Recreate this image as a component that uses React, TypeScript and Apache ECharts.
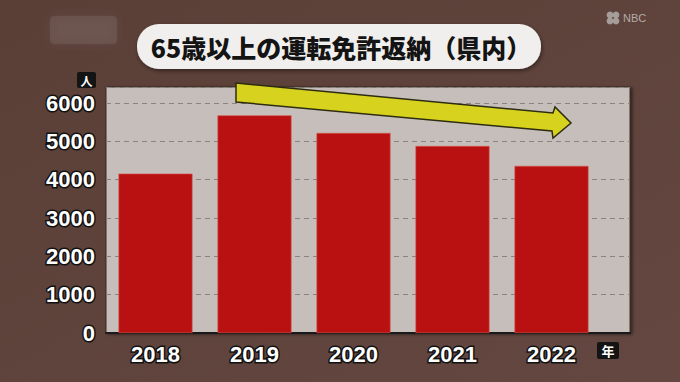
import React, { useEffect, useRef } from "react";
import * as echarts from "echarts";

const categories = ["2018", "2019", "2020", "2021", "2022"];
const values = [4160, 5680, 5220, 4880, 4360];
const yTicks = [0, 1000, 2000, 3000, 4000, 5000, 6000];
const titleText = "65歳以上の運転免許返納（県内）";
const yUnit = "人";
const xUnit = "年";

export default function App() {
  const ref = useRef<HTMLDivElement>(null);
  useEffect(() => {
    if (!ref.current) return;
    const chart = echarts.init(ref.current, null, { renderer: "svg" });
    const yMax = 6420;
    const labelStyle = {
      color: "#ffffff",
      fontSize: 22,
      fontWeight: "bold" as const,
      fontFamily: "Liberation Sans, Arial, sans-serif",
      textBorderColor: "#111111",
      textBorderWidth: 3,
    };
    chart.setOption({
      animation: false,
      backgroundColor: {
        type: "linear",
        x: 0,
        y: 0,
        x2: 1,
        y2: 1,
        colorStops: [
          { offset: 0, color: "#5a3f37" },
          { offset: 1, color: "#634740" },
        ],
      },
      grid: [
        {
          left: 106,
          top: 87,
          width: 524,
          bottom: 49,
          show: true,
          backgroundColor: "#c5beba",
          borderColor: "#3a2a26",
          borderWidth: 1,
          shadowColor: "rgba(0,0,0,0.5)",
          shadowBlur: 3,
          shadowOffsetX: 2,
          shadowOffsetY: 1,
        },
        { left: 106, top: 87, width: 495, bottom: 49 },
      ],
      xAxis: [
        {
          gridIndex: 0,
          type: "value",
          min: 0,
          max: 1,
          axisLabel: { show: false },
          axisTick: { show: false },
          splitLine: { show: false },
          axisLine: { show: true, lineStyle: { color: "#1a1a1a", width: 2 } },
        },
        {
          gridIndex: 1,
          type: "category",
          data: categories,
          axisLine: { show: false },
          axisTick: { show: false },
          axisLabel: { ...labelStyle, margin: 10 },
        },
      ],
      yAxis: [
        {
          gridIndex: 0,
          type: "value",
          min: 0,
          max: yMax,
          interval: 1000,
          axisLine: { show: false },
          axisTick: { show: false },
          axisLabel: {
            ...labelStyle,
            margin: 11,
            showMaxLabel: false,
            formatter: (v: number) => (yTicks.includes(v) ? String(v) : ""),
          },
          splitLine: {
            show: true,
            lineStyle: { color: "#8a8380", type: [5, 4], width: 1 },
          },
        },
        {
          gridIndex: 1,
          type: "value",
          min: 0,
          max: yMax,
          show: false,
          splitLine: { show: false },
        },
      ],
      series: [
        {
          type: "bar",
          xAxisIndex: 1,
          yAxisIndex: 1,
          data: values,
          barWidth: 74,
          itemStyle: { color: "#b91111", borderColor: "#d8564a", borderWidth: 0.6 },
          z: 3,
        },
      ],
      graphic: [
        {
          type: "rect",
          shape: { x: 50, y: 16, width: 67, height: 28, r: 4 },
          style: { fill: "rgba(140,125,118,0.25)", shadowBlur: 10, shadowColor: "rgba(140,125,118,0.6)" },
          z: 1,
        },
        { type: "circle", shape: { cx: 610, cy: 15, r: 3.4 }, style: { fill: "#a59d99" } },
        { type: "circle", shape: { cx: 616, cy: 15, r: 3.4 }, style: { fill: "#a59d99" } },
        { type: "circle", shape: { cx: 610, cy: 21, r: 3.4 }, style: { fill: "#a59d99" } },
        { type: "circle", shape: { cx: 616, cy: 21, r: 3.4 }, style: { fill: "#a59d99" } },
        {
          type: "text",
          x: 623,
          y: 18,
          style: {
            text: "NBC",
            fill: "#b3aba7",
            fontSize: 11,
            fontFamily: "Liberation Sans, Arial, sans-serif",
            verticalAlign: "middle",
          },
        },
        {
          type: "rect",
          shape: { x: 137, y: 24, width: 404, height: 45, r: 22 },
          style: {
            fill: "#f1efed",
            shadowBlur: 4,
            shadowColor: "rgba(0,0,0,0.45)",
            shadowOffsetX: 1,
            shadowOffsetY: 2,
          },
          z: 10,
        },
        {
          type: "text",
          x: 341,
          y: 47,
          style: {
            text: titleText,
            fill: "#141414",
            fontSize: 25,
            fontWeight: 900,
            fontFamily: "Noto Sans CJK JP, sans-serif",
            align: "center",
            verticalAlign: "middle",
          },
          z: 11,
        },
        {
          type: "polygon",
          shape: {
            points: [
              [236, 83],
              [553, 113],
              [555, 107],
              [571, 123],
              [553, 138],
              [552, 131],
              [236, 102],
            ],
          },
          style: { fill: "#d6d21e", stroke: "#2e2c10", lineWidth: 1.5 },
          z: 12,
        },
        {
          type: "rect",
          shape: { x: 77, y: 72, width: 19, height: 16, r: 2 },
          style: { fill: "#141414" },
          z: 10,
        },
        {
          type: "text",
          x: 86.5,
          y: 80,
          style: {
            text: yUnit,
            fill: "#ffffff",
            fontSize: 12,
            fontWeight: "bold",
            fontFamily: "Noto Sans CJK JP, sans-serif",
            align: "center",
            verticalAlign: "middle",
          },
          z: 11,
        },
        {
          type: "rect",
          shape: { x: 597, y: 342, width: 22, height: 17, r: 2 },
          style: { fill: "#141414" },
          z: 10,
        },
        {
          type: "text",
          x: 608,
          y: 350.5,
          style: {
            text: xUnit,
            fill: "#ffffff",
            fontSize: 13,
            fontWeight: "bold",
            fontFamily: "Noto Sans CJK JP, sans-serif",
            align: "center",
            verticalAlign: "middle",
          },
          z: 11,
        },
      ],
    });
    return () => chart.dispose();
  }, []);
  return (
    <div
      ref={ref}
      style={{ position: "fixed", left: 0, top: 0, width: 680, height: 382 }}
    />
  );
}
